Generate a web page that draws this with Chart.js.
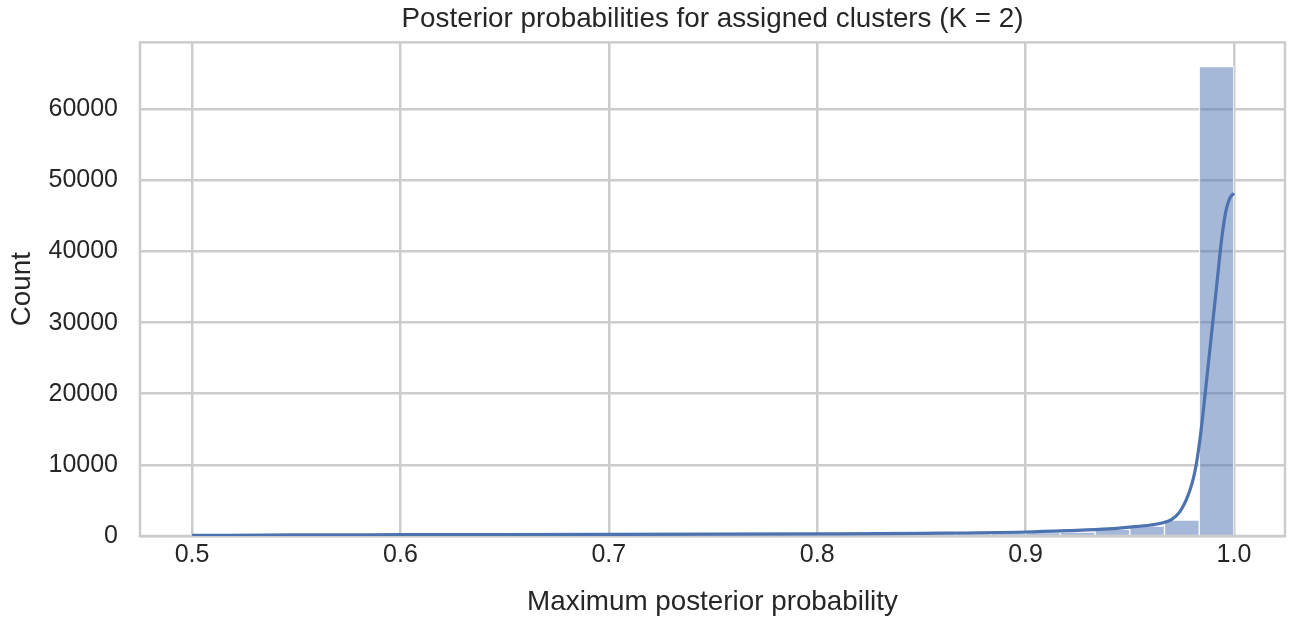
<!DOCTYPE html>
<html>
<head>
<meta charset="utf-8">
<script src="https://cdn.jsdelivr.net/npm/chart.js@4.4.1/dist/chart.umd.min.js"></script>
<style>
  html, body { margin: 0; padding: 0; background: #fff; }
  #wrap { width: 1295px; height: 621px; }
</style>
</head>
<body>
<div id="wrap"><canvas id="hist"></canvas></div>
<script>
// histogram bins (30 bins, 0.5 .. 1.0)
const binStart = 0.5;
const binWidth = 1 / 60;
const binCounts = [
  100, 120, 130, 140, 150, 160,
  170, 175, 180, 185, 190, 200,
  210, 220, 230, 240, 250, 260,
  280, 300, 320, 350, 380, 430,
  480, 560, 940, 1400, 2250, 66000
];

// kde curve
const kdeX = [0.5, 0.55, 0.6, 0.7, 0.8, 0.85, 0.9, 0.92, 0.94, 0.95, 0.96, 0.965, 0.97,
  0.974, 0.977, 0.98, 0.982, 0.984, 0.986, 0.988, 0.99, 0.992, 0.994, 0.996, 0.998, 1.0];
const kdeY = [80, 150, 180, 220, 300, 380, 560, 750, 1000, 1250, 1550, 1800, 2300,
  3400, 5000, 7500, 10200, 14300, 19500, 25000, 30500, 36000, 41500, 45500, 47500, 48200];

const xTicks = [0.5, 0.6, 0.7, 0.8, 0.9, 1.0];
const yTicks = [0, 10000, 20000, 30000, 40000, 50000, 60000];

const gridColor = '#cccccc';
const textColor = '#262626';
const fontFamily = '"Liberation Sans", Arial, sans-serif';

const frame = {
  id: 'frame',
  beforeDatasetsDraw(chart) {
    const a = chart.chartArea;
    const ctx = chart.ctx;
    ctx.save();
    ctx.strokeStyle = gridColor;
    ctx.lineWidth = 2.5;
    ctx.strokeRect(a.left, a.top, a.right - a.left, a.bottom - a.top);
    ctx.restore();
  }
};

new Chart(document.getElementById('hist'), {
  type: 'bar',
  data: {
    datasets: [
      {
        type: 'line',
        data: kdeX.map((x, i) => ({ x: x, y: kdeY[i] })),
        borderColor: '#4c72b0',
        borderWidth: 3.2,
        pointRadius: 0,
        cubicInterpolationMode: 'monotone',
        order: 0
      },
      {
        type: 'bar',
        data: binCounts.map((c, i) => ({ x: binStart + (i + 0.5) * binWidth, y: c })),
        backgroundColor: 'rgba(76,114,176,0.5)',
        borderColor: '#ffffff',
        borderWidth: 1,
        borderSkipped: 'bottom',
        barPercentage: 1,
        categoryPercentage: 1,
        order: 1
      }
    ]
  },
  options: {
    responsive: true,
    maintainAspectRatio: false,
    animation: false,
    layout: { padding: { left: 0, right: 10, top: 0, bottom: 0 } },
    plugins: {
      legend: { display: false },
      tooltip: { enabled: false },
      title: {
        display: true,
        fullSize: false,
        text: 'Posterior probabilities for assigned clusters (K = 2)',
        color: textColor,
        font: { family: fontFamily, size: 27.8, weight: 'normal', lineHeight: 1.2 },
        padding: { top: 2.5, bottom: 6.5 }
      }
    },
    scales: {
      x: {
        type: 'linear',
        min: 0.475,
        max: 1.0245,
        offset: false,
        afterBuildTicks: axis => { axis.ticks = xTicks.map(v => ({ value: v })); },
        afterFit: axis => { axis.height = 85; },
        ticks: {
          color: textColor,
          font: { family: fontFamily, size: 25 },
          padding: 4,
          callback: v => v.toFixed(1)
        },
        grid: { color: gridColor, lineWidth: 2.5, drawTicks: false, offset: false },
        border: { display: false },
        title: {
          display: true,
          text: 'Maximum posterior probability',
          color: textColor,
          font: { family: fontFamily, size: 27.8, lineHeight: 1.2 },
          padding: { top: 0, bottom: 2 }
        }
      },
      y: {
        min: 0,
        max: 69400,
        afterBuildTicks: axis => { axis.ticks = yTicks.map(v => ({ value: v })); },
        afterFit: axis => { axis.width = 140; },
        ticks: {
          color: textColor,
          font: { family: fontFamily, size: 25 },
          padding: 22,
          callback: v => String(v)
        },
        grid: { color: gridColor, lineWidth: 2.5, drawTicks: false },
        border: { display: false },
        title: {
          display: true,
          text: 'Count',
          color: textColor,
          font: { family: fontFamily, size: 27.8, lineHeight: 1.2 },
          padding: { top: 5.5, bottom: 0 }
        }
      }
    }
  },
  plugins: [frame]
});
</script>
</body>
</html>
